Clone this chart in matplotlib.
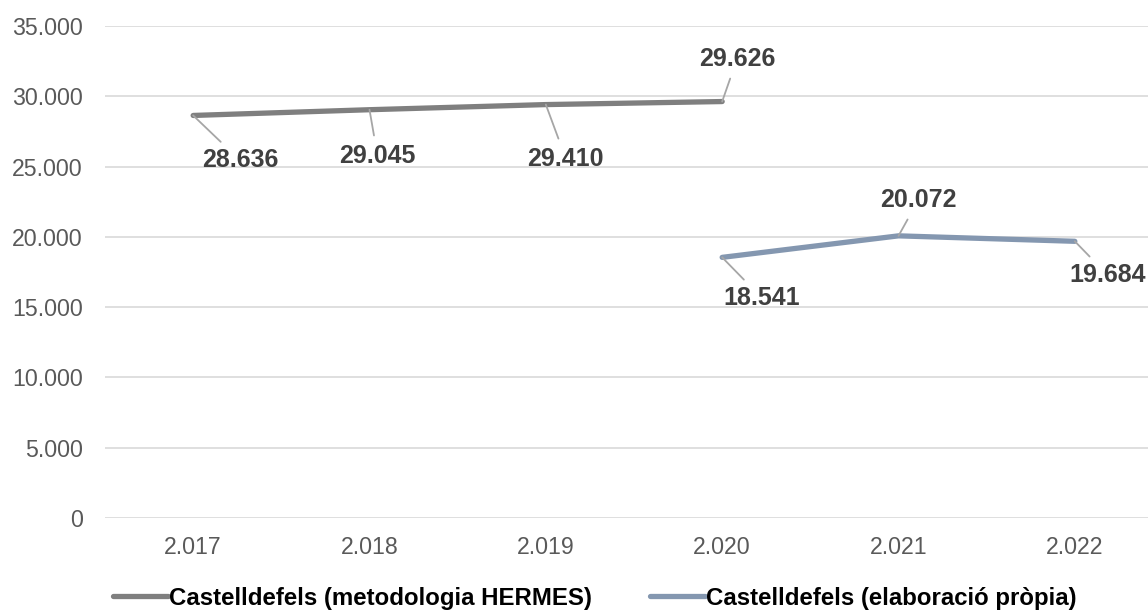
import numpy as np
import matplotlib
matplotlib.use("Agg")
import matplotlib.pyplot as plt
from matplotlib.ticker import FuncFormatter

plt.rcParams['font.family'] = ['Liberation Sans', 'DejaVu Sans']

# Dades
anys = ['2.017', '2.018', '2.019', '2.020', '2.021', '2.022']
hermes = [28636, 29045, 29410, 29626, np.nan, np.nan]
propia = [np.nan, np.nan, np.nan, 18541, 20072, 19684]
etiqueta_hermes = 'Castelldefels (metodologia HERMES)'
etiqueta_propia = 'Castelldefels (elaboració pròpia)'

# desplaçaments de les etiquetes (píxels)
off_hermes = [(47, -45), (8, -46), (20, -54), (15, 43), None, None]
off_propia = [None, None, None, (40, -41), (20, 36), (33, -34)]

gris = '#7f7f7f'
blau = '#8497b0'
text_col = '#404040'

fig = plt.figure(figsize=(11.48, 6.10), dpi=100)
ax = fig.add_axes([105 / 1148, 92 / 610, 1058 / 1148, 492 / 610])

x = np.arange(len(anys))
ax.plot(x, hermes, color=gris, lw=3.8, solid_capstyle='round', label=etiqueta_hermes)
ax.plot(x, propia, color=blau, lw=3.8, solid_capstyle='round', label=etiqueta_propia)


def fmt(v):
    return f"{int(round(v)):,}".replace(',', '.')


for serie, offs in [(hermes, off_hermes), (propia, off_propia)]:
    for xi, v, off in zip(x, serie, offs):
        if off is None or np.isnan(v):
            continue
        ax.annotate(fmt(v), xy=(xi, v), xytext=off, textcoords='offset pixels',
                    ha='center', va='center', fontsize=18, fontweight='bold',
                    color=text_col,
                    arrowprops=dict(arrowstyle='-', color='#a6a6a6', lw=1.3,
                                    shrinkA=4, shrinkB=0))

ax.set_xlim(-0.5, 5.5)
ax.set_ylim(0, 35000)
ax.set_yticks(np.arange(0, 35001, 5000))
ax.yaxis.set_major_formatter(FuncFormatter(lambda v, p: fmt(v)))
ax.set_xticks(x)
ax.set_xticklabels(anys)
ax.grid(axis='y', color='#d9d9d9', lw=1.2)
ax.set_axisbelow(True)
for s in ax.spines.values():
    s.set_visible(False)
ax.tick_params(axis='both', length=0, labelsize=16.7, labelcolor='#595959')
ax.tick_params(axis='y', pad=16)
ax.tick_params(axis='x', pad=13)

fig.legend(loc='center', bbox_to_anchor=(0.518, 12 / 610), ncol=2, frameon=False,
           prop={'size': 17.3, 'weight': 'bold'}, handlelength=2.3,
           handletextpad=0.05, columnspacing=2.4)

fig.savefig('out.png', dpi=100)
